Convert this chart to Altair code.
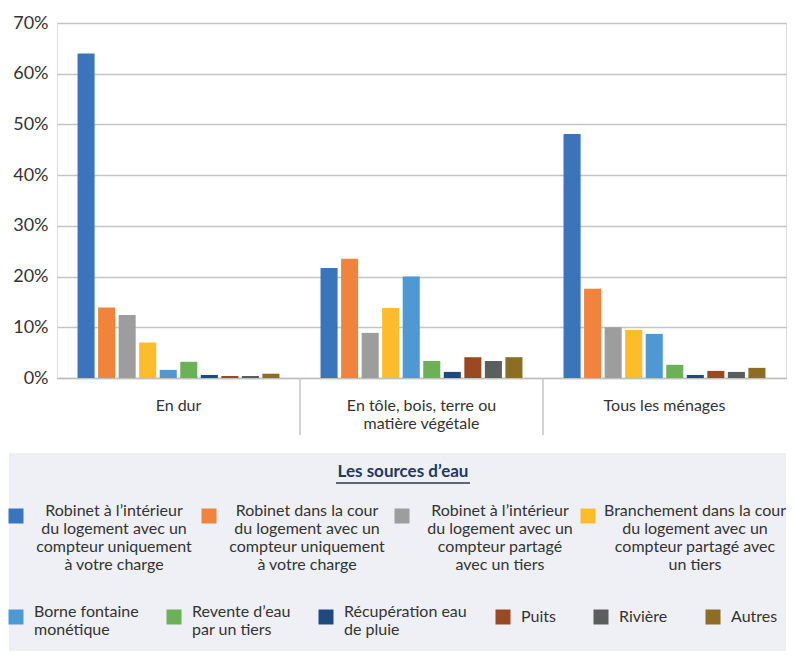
import json
import altair as alt
import pandas as pd

groups = ["En dur", "En tôle, bois, terre ou matière végétale", "Tous les ménages"]
group_lines = {"En tôle, bois, terre ou matière végétale": ["En tôle, bois, terre ou", "matière végétale"]}

sources = [
    "Robinet à l’intérieur du logement avec un compteur uniquement à votre charge",
    "Robinet dans la cour du logement avec un compteur uniquement à votre charge",
    "Robinet à l’intérieur du logement avec un compteur partagé avec un tiers",
    "Branchement dans la cour du logement avec un compteur partagé avec un tiers",
    "Borne fontaine monétique",
    "Revente d’eau par un tiers",
    "Récupération eau de pluie",
    "Puits",
    "Rivière",
    "Autres",
]
source_lines = [
    ["Robinet à l’intérieur", "du logement avec un", "compteur uniquement", "à votre charge"],
    ["Robinet dans la cour", "du logement avec un", "compteur uniquement", "à votre charge"],
    ["Robinet à l’intérieur", "du logement avec un", "compteur partagé", "avec un tiers"],
    ["Branchement dans la cour", "du logement avec un", "compteur partagé avec", "un tiers"],
    ["Borne fontaine", "monétique"],
    ["Revente d’eau", "par un tiers"],
    ["Récupération eau", "de pluie"],
    ["Puits"],
    ["Rivière"],
    ["Autres"],
]
colors = ["#3A74BB", "#F0843C", "#9D9D9D", "#FDBC2A", "#4E98D4",
          "#6BB156", "#1F4A7E", "#9A4A22", "#5A5F5E", "#8C6D23"]

en_dur = [64.0, 13.9, 12.4, 7.0, 1.6, 3.2, 0.6, 0.4, 0.4, 0.85]
en_tole = [21.7, 23.5, 8.9, 13.8, 20.0, 3.35, 1.2, 4.1, 3.35, 4.1]
tous = [48.1, 17.6, 10.0, 9.5, 8.7, 2.6, 0.6, 1.4, 1.2, 2.0]

y_ticks = [0, 10, 20, 30, 40, 50, 60, 70]
legend_title = "Les sources d’eau"

rows = []
for g, vals in zip(groups, [en_dur, en_tole, tous]):
    for s, v in zip(sources, vals):
        rows.append({"group": g, "source": s, "value": v})
df = pd.DataFrame(rows)

FONT = "Lato"
TXT = "#333333"
W, H = 729, 355


def expr_map(mapping):
    e = "datum.label"
    for k, v in reversed(list(mapping.items())):
        e = f"datum.label == {json.dumps(k, ensure_ascii=False)} ? {json.dumps(v, ensure_ascii=False)} : ({e})"
    return e


legend_expr = expr_map(dict(zip(sources, source_lines)))
x_expr = expr_map(group_lines)

x_enc = alt.X(
    "group:N", sort=groups,
    scale=alt.Scale(domain=groups, paddingInner=0, paddingOuter=0),
    axis=alt.Axis(title=None, ticks=False, labelExpr=x_expr, labelFont=FONT,
                  labelFontSize=16, labelColor=TXT, labelPadding=27,
                  labelLineHeight=18, labelAngle=0, labelAlign="center",
                  labelBaseline="middle",
                  domainColor="#BFBFBF", domainWidth=1.5),
)
y_enc = alt.Y(
    "value:Q",
    scale=alt.Scale(domain=[0, 70], nice=False),
    axis=alt.Axis(title=None, values=y_ticks, labelExpr="datum.value + '%'",
                  labelFont=FONT, labelFontSize=18, labelColor=TXT,
                  labelPadding=9, domain=False, ticks=False,
                  gridColor="#C4C4C4", gridWidth=1.3),
)
xoff = alt.XOffset("source:N", sort=sources,
                   scale=alt.Scale(domain=sources, paddingInner=0.17, paddingOuter=1))

common_legend = dict(
    orient="none", direction="horizontal", padding=0, title=None,
    labelExpr=legend_expr, labelLimit=400, labelFont=FONT, labelFontSize=16,
    labelColor=TXT, symbolType="square", symbolSize=225, symbolStrokeWidth=0,
    symbolOpacity=1, rowPadding=0,
)


def bars(idx, **legend_kw):
    idx = list(idx)
    dom = [sources[i] for i in idx]
    data = df[df["source"].isin(dom)]
    return alt.Chart(data).mark_bar().encode(
        x=x_enc, y=y_enc, xOffset=xoff,
        color=alt.Color("source:N", sort=dom,
                        scale=alt.Scale(domain=dom, range=[colors[i] for i in idx]),
                        legend=alt.Legend(**common_legend, **legend_kw)),
    )


bars_a = bars(range(0, 3), columns=3, columnPadding=9, labelAlign="center",
              labelOffset=90, labelBaseline="alphabetic", legendX=-49, legendY=485)
bars_d = bars(range(3, 4), columns=1, labelAlign="center",
              labelOffset=99, labelBaseline="alphabetic", legendX=523, legendY=485)
bars_b = bars(range(4, 7), columns=3, columnPadding=27, labelAlign="left",
              labelOffset=10, labelBaseline="alphabetic", legendX=-49, legendY=586)
bars_c = bars(range(7, 10), columns=3, columnPadding=37, labelAlign="left",
              labelOffset=10, labelBaseline="middle", legendX=438, legendY=586)

sep = alt.Chart(pd.DataFrame({"group": groups[1:]})).mark_rule(
    color="#C4C4C4", strokeWidth=1.5
).encode(
    x=alt.X("group:N", sort=groups, bandPosition=0),
    y=alt.value(H), y2=alt.value(H + 57),
)

one = pd.DataFrame({"title": [legend_title]})
bg = alt.Chart(one).mark_rect(color="#EFF0F5").encode(
    x=alt.value(-48), x2=alt.value(W), y=alt.value(430), y2=alt.value(628),
)
title = alt.Chart(one).mark_text(
    font=FONT, fontSize=17, fontWeight="bold", color="#1F3864",
    align="center", baseline="middle",
).encode(text="title:N", x=alt.value(346), y=alt.value(449))
underline = alt.Chart(one).mark_rule(color="#5E6678", strokeWidth=2).encode(
    x=alt.value(279), x2=alt.value(413), y=alt.value(460),
)

chart = alt.layer(bg, underline, title, sep, bars_a, bars_d, bars_b, bars_c).resolve_scale(
    color="independent"
).properties(
    width=W, height=H,
    padding={"left": 0, "top": 6, "right": 0, "bottom": 0},
).configure_view(stroke=None).configure(font=FONT)

chart.save("out.html", embed_options={"renderer": "svg", "actions": False})
